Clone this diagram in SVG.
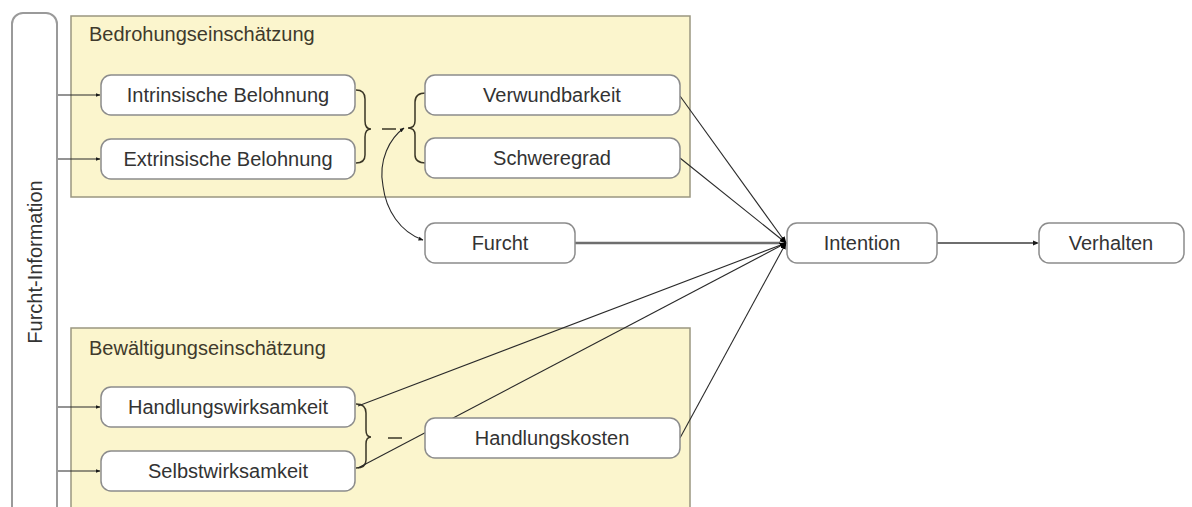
<svg xmlns="http://www.w3.org/2000/svg" width="1192" height="507" viewBox="0 0 1192 507">
<style>
  text { font-family: "Liberation Sans", Arial, sans-serif; font-size: 20px; fill: #333; }
  .lbl { text-anchor: middle; dominant-baseline: central; }
  .title { fill: #3f3a2c; }
  .grp { fill: #fbf5cd; stroke: #9a9680; stroke-width: 1.5; }
  .node { fill: #fff; stroke: #8c8c8c; stroke-width: 1.5; }
  .bar { fill: #fff; stroke: #9a9a9a; stroke-width: 2; }
  .thin { fill: none; stroke: #2a2a2a; stroke-width: 1.1; }
  .brace { fill: none; stroke: #3a3626; stroke-width: 1.5; }
  .thick { fill: none; stroke: #6e6e6e; stroke-width: 2.5; }
  .mid { fill: none; stroke: #6e6e6e; stroke-width: 2; }
</style>
<defs>
  <marker id="ah" viewBox="0 0 10 10" refX="9" refY="5" markerWidth="5" markerHeight="5" orient="auto" markerUnits="userSpaceOnUse">
    <path d="M0,1 L10,5 L0,9 z" fill="#1a1a1a"/>
  </marker>
  <marker id="ahb" viewBox="0 0 10 10" refX="9" refY="5" markerWidth="7" markerHeight="7" orient="auto" markerUnits="userSpaceOnUse">
    <path d="M0,1 L10,5 L0,9 z" fill="#000"/>
  </marker>
</defs>

<g id="furcht-information">
  <rect class="bar" x="12" y="13" width="45" height="510" rx="11"/>
  <text class="lbl" transform="translate(35,262) rotate(-90)">Furcht-Information</text>
</g>

<g id="bedrohungseinschaetzung">
  <rect class="grp" x="71" y="16" width="619" height="181"/>
  <text class="title" x="89" y="41">Bedrohungseinschätzung</text>
</g>

<g id="bewaeltigungseinschaetzung">
  <rect class="grp" x="71" y="328" width="619" height="200"/>
  <text class="title" x="89" y="355">Bewältigungseinschätzung</text>
</g>

<g id="connectors">
  <!-- from Furcht-Information -->
  <line class="thin" x1="58" y1="95" x2="100" y2="95" marker-end="url(#ah)"/>
  <line class="thin" x1="58" y1="159" x2="100" y2="159" marker-end="url(#ah)"/>
  <line class="thin" x1="58" y1="407" x2="100" y2="407" marker-end="url(#ah)"/>
  <line class="thin" x1="58" y1="471" x2="100" y2="471" marker-end="url(#ah)"/>
  <!-- braces -->
  <path class="brace" d="M356,90 Q365,90 365,99 L365,121 Q365,129 371,129 Q365,129 365,137 L365,155 Q365,163 356,163"/>
  <line class="brace" x1="382" y1="129" x2="396" y2="129"/>
  <path class="brace" d="M426,93 Q415,93 415,102 L415,121 Q415,128 408,128 Q415,128 415,135 L415,155 Q415,163 426,163"/>
  <path class="brace" d="M356,404 Q366,404 366,413 L366,430 Q366,437 371,437 Q366,437 366,444 L366,460 Q366,468 356,468"/>
  <line class="brace" x1="388" y1="438" x2="402" y2="438"/>
  <!-- curved arrow to Furcht -->
  <path class="thin" d="M383,186 C378,160 390,138 404,128" marker-end="url(#ah)"/>
  <path class="thin" d="M383,186 C386,210 400,232 423,240" marker-end="url(#ah)"/>
  <!-- to Intention -->
  <line class="thin" x1="680" y1="96" x2="786" y2="243" marker-end="url(#ahb)"/>
  <line class="thin" x1="680" y1="158" x2="786" y2="243" marker-end="url(#ahb)"/>
  <line class="thick" x1="575" y1="243" x2="780" y2="243"/>
  <line class="thin" x1="358" y1="406" x2="786" y2="243" marker-end="url(#ahb)"/>
  <line class="thin" x1="358" y1="468" x2="786" y2="243" marker-end="url(#ahb)"/>
  <line class="thin" x1="680" y1="438" x2="786" y2="243" marker-end="url(#ahb)"/>
  <!-- Intention to Verhalten -->
  <line class="mid" x1="937" y1="243" x2="1036" y2="243"/>
  <path d="M1033,240.5 L1039,243 L1033,245.5 z" fill="#1a1a1a"/>
</g>

<g id="intrinsische-belohnung">
  <rect class="node" x="101" y="75" width="254" height="40" rx="10"/>
  <text class="lbl" x="228" y="95">Intrinsische Belohnung</text>
</g>
<g id="extrinsische-belohnung">
  <rect class="node" x="101" y="139" width="254" height="40" rx="10"/>
  <text class="lbl" x="228" y="159">Extrinsische Belohnung</text>
</g>
<g id="verwundbarkeit">
  <rect class="node" x="425" y="75" width="255" height="40" rx="10"/>
  <text class="lbl" x="552" y="95">Verwundbarkeit</text>
</g>
<g id="schweregrad">
  <rect class="node" x="425" y="138" width="255" height="40" rx="10"/>
  <text class="lbl" x="552" y="158">Schweregrad</text>
</g>
<g id="furcht">
  <rect class="node" x="425" y="223" width="150" height="40" rx="10"/>
  <text class="lbl" x="500" y="243">Furcht</text>
</g>
<g id="intention">
  <rect class="node" x="787" y="223" width="150" height="40" rx="10"/>
  <text class="lbl" x="862" y="243">Intention</text>
</g>
<g id="verhalten">
  <rect class="node" x="1039" y="223" width="145" height="40" rx="10"/>
  <text class="lbl" x="1111" y="243">Verhalten</text>
</g>
<g id="handlungswirksamkeit">
  <rect class="node" x="101" y="387" width="254" height="40" rx="10"/>
  <text class="lbl" x="228" y="407">Handlungswirksamkeit</text>
</g>
<g id="selbstwirksamkeit">
  <rect class="node" x="101" y="451" width="254" height="40" rx="10"/>
  <text class="lbl" x="228" y="471">Selbstwirksamkeit</text>
</g>
<g id="handlungskosten">
  <rect class="node" x="425" y="418" width="255" height="40" rx="10"/>
  <text class="lbl" x="552" y="438">Handlungskosten</text>
</g>
</svg>
